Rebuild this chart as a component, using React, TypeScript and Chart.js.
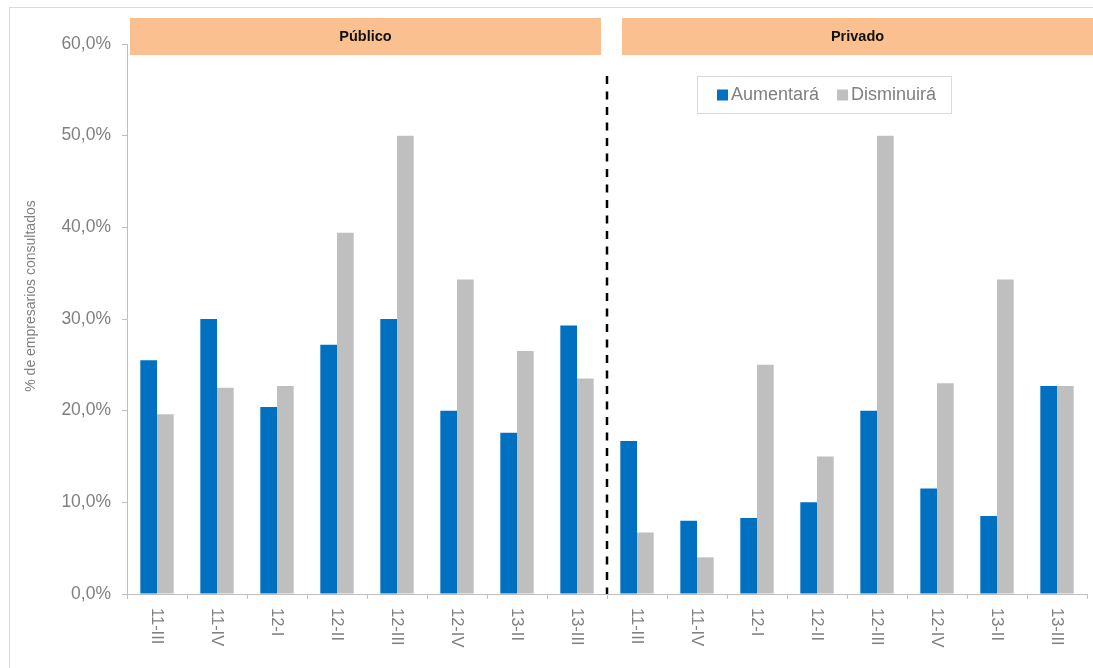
import React, { useEffect, useRef } from 'react';
import { Chart, registerables } from 'chart.js';

Chart.register(...registerables);

// Survey periods (year-quarter), repeated for each sector
const periods = ['11-III', '11-IV', '12-I', '12-II', '12-III', '12-IV', '13-II', '13-III'];
const sectors = ['Público', 'Privado'];
const seriesNames = ['Aumentará', 'Disminuirá'];
const seriesColors = ['#0070c0', '#bfbfbf'];

// Share of surveyed business owners (%)
const aumentaraPublico = [25.5, 30.0, 20.4, 27.2, 30.0, 20.0, 17.6, 29.3];
const disminuiraPublico = [19.6, 22.5, 22.7, 39.4, 50.0, 34.3, 26.5, 23.5];
const aumentaraPrivado = [16.7, 8.0, 8.3, 10.0, 20.0, 11.5, 8.5, 22.7];
const disminuiraPrivado = [6.7, 4.0, 25.0, 15.0, 50.0, 23.0, 34.3, 22.7];

const yTicks = [0, 10, 20, 30, 40, 50, 60];
const axisTitle = '% de empresarios consultados';

const FONT = '"Liberation Sans", Arial, sans-serif';
const TEXT_GRAY = '#808080';
const AXIS_GRAY = '#bfbfbf';
const BAND_COLOR = '#fac090';

const categoryLabels = [...periods, ...periods];

const fmtPct = (v: number) => v.toFixed(1).replace('.', ',') + '%';

const decorations = {
  id: 'decorations',
  beforeDraw(chart: any) {
    const { ctx } = chart;
    ctx.save();
    ctx.strokeStyle = '#d9d9d9';
    ctx.lineWidth = 1;
    ctx.strokeRect(9.5, 7.5, chart.width + 10, chart.height + 10);
    ctx.restore();
  },
  afterDraw(chart: any) {
    const { ctx, chartArea } = chart;
    const xs = chart.scales.x;
    const step = xs.getPixelForValue(1) - xs.getPixelForValue(0);
    const boundary = (i: number) => xs.getPixelForValue(i) - step / 2;
    const n = periods.length;

    ctx.save();

    // Sector header bands
    const bandTop = 18;
    const bandH = 37;
    const bands = [
      { l: boundary(0) + 3, r: boundary(n) - 6 },
      { l: boundary(n) + 15, r: boundary(2 * n) + 6 },
    ];
    bands.forEach((b, i) => {
      ctx.fillStyle = BAND_COLOR;
      ctx.fillRect(b.l, bandTop, b.r - b.l, bandH);
      ctx.fillStyle = '#111';
      ctx.font = `bold 14.5px ${FONT}`;
      ctx.textAlign = 'center';
      ctx.textBaseline = 'middle';
      ctx.fillText(sectors[i], (b.l + b.r) / 2, bandTop + bandH / 2);
    });

    // Dashed divider between sectors
    const divX = boundary(n);
    ctx.strokeStyle = '#000';
    ctx.lineWidth = 2.5;
    ctx.setLineDash([8, 7.5]);
    ctx.beginPath();
    ctx.moveTo(divX, 76);
    ctx.lineTo(divX, chartArea.bottom);
    ctx.stroke();
    ctx.setLineDash([]);

    // Rotated category labels (reading downward)
    ctx.fillStyle = TEXT_GRAY;
    ctx.font = `16.5px ${FONT}`;
    ctx.textAlign = 'left';
    ctx.textBaseline = 'middle';
    categoryLabels.forEach((lab, i) => {
      ctx.save();
      ctx.translate(xs.getPixelForValue(i), chartArea.bottom + 14);
      ctx.rotate(Math.PI / 2);
      ctx.fillText(lab, 0, 0);
      ctx.restore();
    });

    // Y axis title
    ctx.save();
    ctx.font = `14px ${FONT}`;
    ctx.fillStyle = TEXT_GRAY;
    ctx.textAlign = 'center';
    ctx.textBaseline = 'middle';
    ctx.translate(31, 296);
    ctx.rotate(-Math.PI / 2);
    ctx.fillText(axisTitle, 0, 0);
    ctx.restore();

    // Legend box
    const lx = 697, ly = 76, lw = 254, lh = 37;
    ctx.fillStyle = '#fff';
    ctx.fillRect(lx, ly, lw, lh);
    ctx.strokeStyle = '#d9d9d9';
    ctx.lineWidth = 1;
    ctx.strokeRect(lx + 0.5, ly + 0.5, lw, lh);
    ctx.font = `18px ${FONT}`;
    ctx.textAlign = 'left';
    ctx.textBaseline = 'middle';
    let cx = lx + 20;
    const cy = ly + lh / 2 + 0.5;
    chart.data.datasets.forEach((ds: any) => {
      ctx.fillStyle = ds.backgroundColor;
      ctx.fillRect(cx, cy - 5.5, 11, 11);
      ctx.fillStyle = TEXT_GRAY;
      ctx.fillText(ds.label, cx + 14, cy);
      cx += 14 + ctx.measureText(ds.label).width + 18;
    });

    ctx.restore();
  },
};

export default function App() {
  const canvasRef = useRef<HTMLCanvasElement | null>(null);

  useEffect(() => {
    if (!canvasRef.current) return;
    const chart = new Chart(canvasRef.current, {
      type: 'bar',
      data: {
        labels: categoryLabels,
        datasets: [
          {
            label: seriesNames[0],
            data: [...aumentaraPublico, ...aumentaraPrivado],
            backgroundColor: seriesColors[0],
            categoryPercentage: 0.556,
            barPercentage: 1,
          },
          {
            label: seriesNames[1],
            data: [...disminuiraPublico, ...disminuiraPrivado],
            backgroundColor: seriesColors[1],
            categoryPercentage: 0.556,
            barPercentage: 1,
          },
        ],
      },
      options: {
        animation: false,
        responsive: true,
        maintainAspectRatio: false,
        layout: { padding: { top: 44, right: 6, left: 0, bottom: 0 } },
        plugins: {
          legend: { display: false },
          tooltip: { enabled: false },
        },
        scales: {
          x: {
            grid: {
              display: true,
              drawOnChartArea: false,
              drawTicks: true,
              tickLength: 5,
              color: AXIS_GRAY,
              offset: true,
            },
            border: { color: AXIS_GRAY, width: 1 },
            ticks: { display: false },
            afterFit: (s: any) => {
              s.height = 74;
            },
          },
          y: {
            min: 0,
            max: 60,
            afterBuildTicks: (s: any) => {
              s.ticks = yTicks.map((v) => ({ value: v }));
            },
            grid: {
              display: true,
              drawOnChartArea: false,
              drawTicks: true,
              tickLength: 5,
              color: AXIS_GRAY,
            },
            border: { color: AXIS_GRAY, width: 1 },
            ticks: {
              padding: 11,
              color: TEXT_GRAY,
              font: { family: FONT, size: 17.5 },
              callback: (v: any) => fmtPct(Number(v)),
            },
            afterFit: (s: any) => {
              s.width = 127;
            },
          },
        },
      },
      plugins: [decorations],
    });
    return () => chart.destroy();
  }, []);

  return (
    <div style={{ position: 'fixed', left: 0, top: 0, width: 1093, height: 668, background: '#fff' }}>
      <canvas ref={canvasRef} />
    </div>
  );
}
